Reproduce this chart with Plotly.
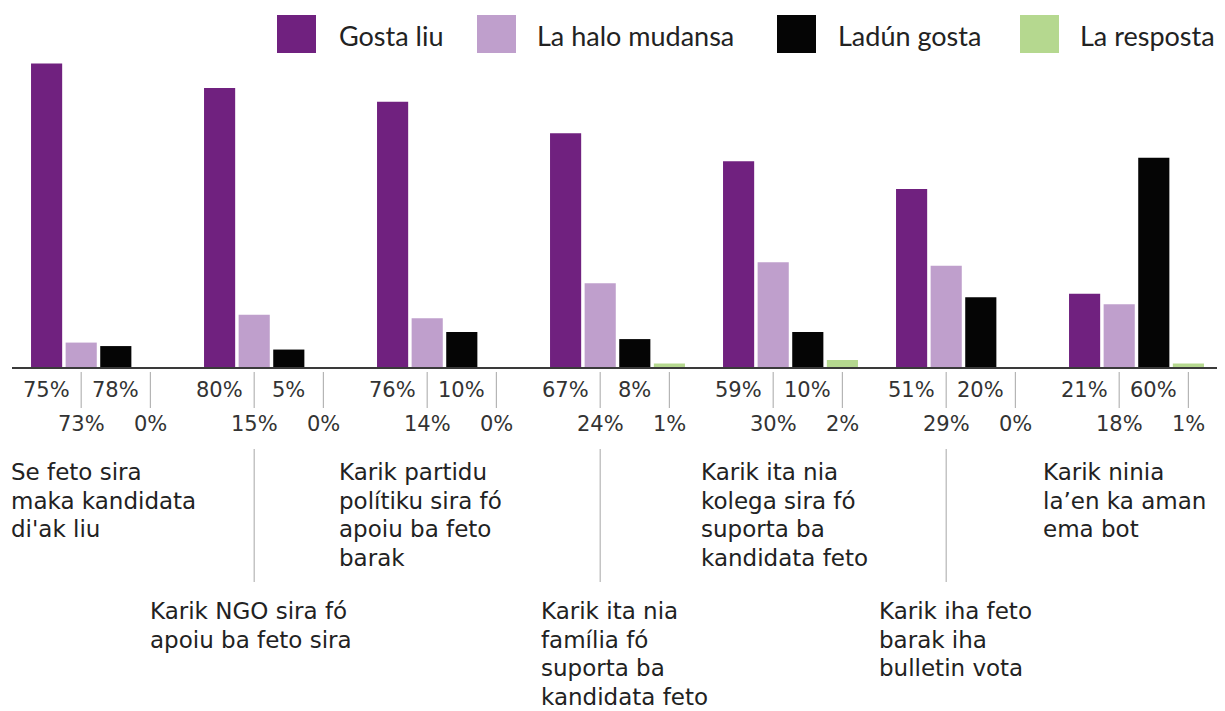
import plotly.graph_objects as go

# ---------------- data ----------------
categories = [
    "Se feto sira\nmaka kandidata\ndi'ak liu",
    "Karik NGO sira fó\napoiu ba feto sira",
    "Karik partidu\npolítiku sira fó\napoiu ba feto\nbarak",
    "Karik ita nia\nfamília fó\nsuporta ba\nkandidata feto",
    "Karik ita nia\nkolega sira fó\nsuporta ba\nkandidata feto",
    "Karik iha feto\nbarak iha\nbulletin vota",
    "Karik ninia\nla’en ka aman\nema bot",
]
series_names = ["Gosta liu", "La halo mudansa", "Ladún gosta", "La resposta"]

gosta_liu = [87, 80, 76, 67, 59, 51, 21]
la_halo_mudansa = [7, 15, 14, 24, 30, 29, 18]
ladun_gosta = [6, 5, 10, 8, 10, 20, 60]
la_resposta = [0, 0, 0, 1, 2, 0, 1]

# printed labels under each group (as they appear on the original)
lbl_gosta_liu = ["75%", "80%", "76%", "67%", "59%", "51%", "21%"]
lbl_la_halo = ["73%", "15%", "14%", "24%", "30%", "29%", "18%"]
lbl_ladun = ["78%", "5%", "10%", "8%", "10%", "20%", "60%"]
lbl_resposta = ["0%", "0%", "0%", "1%", "2%", "0%", "1%"]

# ---------------- styling / layout ----------------
colors = ["#70217f", "#bf9fcc", "#050505", "#b5d88f"]
OFF = 8                      # default page body margin
W, H = 1225 - OFF, 711 - OFF
ML, MR = 12 - OFF, 2
MT = 60 - OFF
BASE_PAGE = 367              # baseline in page pixels
MB = H - (BASE_PAGE - OFF)
PW = W - ML - MR
PH = H - MT - MB
FONT = "'DejaVu Sans', sans-serif"
LEG_FONT = "Lato, sans-serif"
TXT = "#222222"
SEP = "#b5b5b5"


def px_x(p):
    return (p - OFF - ML) / PW


def px_y(p):
    return (BASE_PAGE - p) / PH


cat_keys = [c.replace("\n", " ") for c in categories]
values = [gosta_liu, la_halo_mudansa, ladun_gosta, la_resposta]
labels = [lbl_gosta_liu, lbl_la_halo, lbl_ladun, lbl_resposta]
slot_off = [-0.3, -0.1, 0.1, 0.3]

fig = go.Figure()
for name, vals, col in zip(series_names, values, colors):
    fig.add_trace(go.Bar(
        x=cat_keys, y=vals, name=name,
        marker=dict(color=col, line=dict(width=0)),
        showlegend=False, hoverinfo="x+y+name",
    ))

annotations = []
shapes = []

# percentage labels: series 0,2 top row; 1,3 bottom row
row_y = [390, 424, 390, 424]
for k in range(4):
    for i in range(len(cat_keys)):
        annotations.append(dict(
            x=i + slot_off[k], xref="x", y=px_y(row_y[k]), yref="paper",
            text=labels[k][i], showarrow=False, xanchor="center", yanchor="middle",
            font=dict(family=FONT, size=21, color="#333333"),
        ))

# short separator lines at slot 2 and slot 4
for i in range(len(cat_keys)):
    for k in (1, 3):
        shapes.append(dict(
            type="line", xref="x", yref="paper",
            x0=i + slot_off[k], x1=i + slot_off[k],
            y0=px_y(372), y1=px_y(408),
            line=dict(color=SEP, width=1.2),
        ))
# long leader lines for lower labels (groups 2, 4, 6)
for i in (1, 3, 5):
    shapes.append(dict(
        type="line", xref="x", yref="paper",
        x0=i + slot_off[1], x1=i + slot_off[1],
        y0=px_y(449), y1=px_y(582),
        line=dict(color=SEP, width=1.2),
    ))

# category labels, line by line
label_left = [9, 148, 337, 539, 699, 877, 1041]
label_first = [472, 611, 472, 611, 472, 611, 472]
LINE_H = 28.5
for i, cat in enumerate(categories):
    for j, line in enumerate(cat.split("\n")):
        annotations.append(dict(
            x=px_x(label_left[i]), xref="paper",
            y=px_y(label_first[i] + j * LINE_H), yref="paper",
            text=line, showarrow=False, xanchor="left", yanchor="middle",
            font=dict(family=FONT, size=23, color=TXT),
        ))

# custom legend
leg_sq = [(277, 316), (477, 516), (777, 816), (1020, 1059)]
leg_txt = [337, 535, 836, 1078]
for k, name in enumerate(series_names):
    shapes.append(dict(
        type="rect", xref="paper", yref="paper",
        x0=px_x(leg_sq[k][0]), x1=px_x(leg_sq[k][1]),
        y0=px_y(53), y1=px_y(15),
        fillcolor=colors[k], line=dict(width=0),
    ))
    annotations.append(dict(
        x=px_x(leg_txt[k]), xref="paper", y=px_y(36), yref="paper",
        text=name, showarrow=False, xanchor="left", yanchor="middle",
        font=dict(family=LEG_FONT, size=27, color=TXT),
    ))

fig.update_layout(
    width=W, height=H,
    margin=dict(l=ML, r=MR, t=MT, b=MB, pad=0),
    paper_bgcolor="white", plot_bgcolor="white",
    barmode="group", bargap=0.2, bargroupgap=0.1,
    xaxis=dict(
        type="category", showticklabels=False, ticks="", showgrid=False,
        showline=True, linecolor="#3a3a3a", linewidth=2, zeroline=False,
        range=[-0.5, len(cat_keys) - 0.5],
    ),
    yaxis=dict(
        range=[0, 88], visible=False, showgrid=False, zeroline=False,
    ),
    annotations=annotations, shapes=shapes,
    showlegend=False,
)

fig.write_html("out.html")
